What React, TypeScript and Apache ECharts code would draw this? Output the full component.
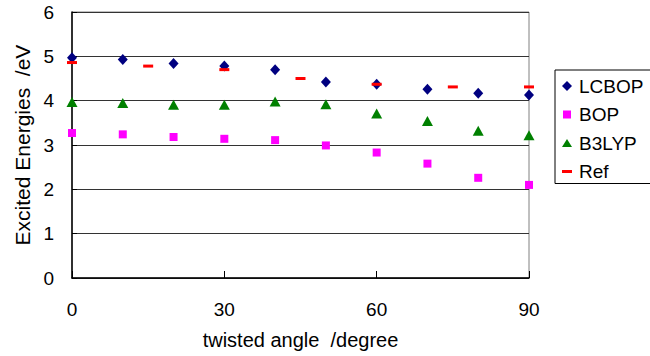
import React, { useEffect, useRef } from "react";
import * as echarts from "echarts";

const angles = [0, 10, 20, 30, 40, 50, 60, 70, 80, 90];
const lcbop = [4.97, 4.93, 4.84, 4.78, 4.7, 4.42, 4.37, 4.26, 4.17, 4.13];
const bop = [3.27, 3.24, 3.18, 3.14, 3.11, 2.99, 2.83, 2.58, 2.26, 2.1];
const b3lyp = [3.97, 3.95, 3.91, 3.91, 3.98, 3.92, 3.71, 3.54, 3.32, 3.22];
const refAngles = [0, 15, 30, 45, 60, 75, 90];
const refValues = [4.86, 4.78, 4.7, 4.5, 4.37, 4.31, 4.31];
const seriesNames = ["LCBOP", "BOP", "B3LYP", "Ref"];

const FONT = "'Liberation Sans', Arial, sans-serif";

export default function App() {
  const ref = useRef<HTMLDivElement>(null);
  useEffect(() => {
    if (!ref.current) return;
    const chart = echarts.init(ref.current, undefined, { renderer: "svg" });
    const pairs = (xs: number[], ys: number[]) => xs.map((x, i) => [x, ys[i]]);
    chart.setOption({
      animation: false,
      textStyle: { fontFamily: FONT },
      grid: {
        left: 72,
        right: 121,
        top: 12,
        bottom: 78,
        show: true,
        borderColor: "#808080",
        borderWidth: 1,
        backgroundColor: "transparent",
      },
      legend: {
        orient: "vertical",
        left: 555,
        top: 70,
        padding: [6, 12, 2, 7],
        itemWidth: 14,
        itemHeight: 10,
        itemGap: 8.5,
        borderColor: "#000",
        borderWidth: 1,
        symbolKeepAspect: true,
        textStyle: { fontSize: 19, color: "#000", fontFamily: FONT, lineHeight: 20 },
        data: [
          { name: seriesNames[0], icon: "path://M5,0L10,5L5,10L0,5Z" },
          { name: seriesNames[1], icon: "path://M0,0M10,10M1,1H9V9H1Z" },
          { name: seriesNames[2], icon: "path://M0,0M10,10M5,1L10,9H0Z" },
          { name: seriesNames[3], icon: "path://M0,0M10,10M0,3.5H10V6.5H0Z" },
        ],
      },
      xAxis: {
        type: "value",
        min: 0,
        max: 90,
        interval: 30,
        name: "twisted angle  /degree",
        nameLocation: "middle",
        nameGap: 52,
        nameTextStyle: { fontSize: 20, color: "#000", fontFamily: FONT },
        axisLine: { show: true, lineStyle: { color: "#000", width: 1.5 } },
        axisTick: { show: true, inside: true, length: 7, lineStyle: { color: "#000" } },
        axisLabel: { fontSize: 19, color: "#000", margin: 22, fontFamily: FONT },
        splitLine: { show: false },
      },
      yAxis: {
        type: "value",
        min: 0,
        max: 6,
        interval: 1,
        name: "Excited Energies  /eV",
        nameLocation: "middle",
        nameRotate: 90,
        nameGap: 36,
        nameTextStyle: { fontSize: 21, color: "#000", fontFamily: FONT },
        axisLine: { show: true, lineStyle: { color: "#000", width: 1.5 } },
        axisTick: { show: true, inside: true, length: 5, lineStyle: { color: "#000" } },
        axisLabel: { fontSize: 19, color: "#000", margin: 18, fontFamily: FONT },
        splitLine: { show: true, lineStyle: { color: "#333", width: 1 } },
      },
      series: [
        {
          name: seriesNames[0],
          type: "scatter",
          symbol: "diamond",
          symbolSize: [10, 11],
          itemStyle: { color: "#000080", opacity: 1 },
          data: pairs(angles, lcbop),
          z: 3,
        },
        {
          name: seriesNames[1],
          type: "scatter",
          symbol: "rect",
          symbolSize: 8,
          itemStyle: { color: "#FF00FF", opacity: 1 },
          data: pairs(angles, bop),
          z: 3,
        },
        {
          name: seriesNames[2],
          type: "scatter",
          symbol: "triangle",
          symbolSize: [11, 10],
          itemStyle: { color: "#008000", opacity: 1 },
          data: pairs(angles, b3lyp),
          z: 3,
        },
        {
          name: seriesNames[3],
          type: "scatter",
          symbol: "rect",
          symbolSize: [10, 3],
          itemStyle: { color: "#FF0000", opacity: 1 },
          data: pairs(refAngles, refValues),
          z: 4,
        },
      ],
    });
    return () => chart.dispose();
  }, []);
  return (
    <div
      ref={ref}
      style={{ position: "fixed", left: 0, top: 0, width: 650, height: 356, background: "#fff" }}
    />
  );
}
